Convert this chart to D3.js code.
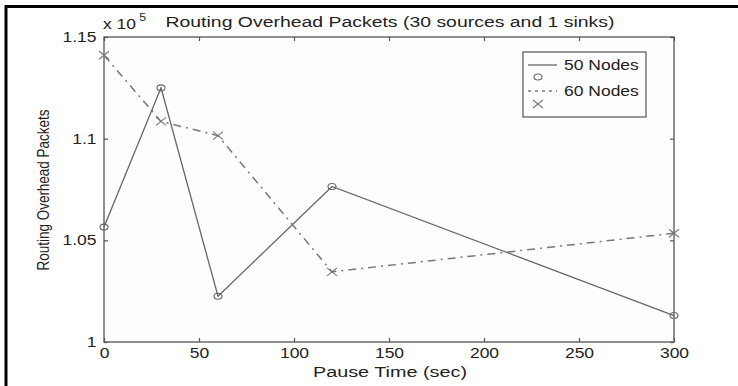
<!DOCTYPE html>
<html>
<head>
<meta charset="utf-8">
<script src="https://cdn.jsdelivr.net/npm/d3@7"></script>
<style>
  body { margin: 0; background: #fff; }
  svg { display: block; font-family: "Liberation Sans", Arial, sans-serif; }
</style>
</head>
<body>
<svg id="chart" width="738" height="386"></svg>
<script>
// pause time (sec) on the x axis
const pauseTimes = [0, 30, 60, 120, 300];
// routing overhead packets
const nodes50 = [105650, 112500, 102250, 107650, 101300];
const nodes60 = [114100, 110850, 110150, 103450, 105350];
const seriesNames = ['50 Nodes', '60 Nodes'];
const xTicks = [0, 50, 100, 150, 200, 250, 300];
const yTicks = [100000, 105000, 110000, 115000];

const svg = d3.select('#chart'),
  margin = {top: 37, right: 64, bottom: 44, left: 104},
  width = +svg.attr('width') - margin.left - margin.right,
  height = +svg.attr('height') - margin.top - margin.bottom;

const ink = '#555';
const stretch = 'scale(1.25,1)'; // the picture is wider than tall text would be

const x = d3.scaleLinear().domain([0, 300]).range([margin.left, margin.left + width]);
const y = d3.scaleLinear().domain([100000, 115000]).range([margin.top + height, margin.top]);

// outer frame (top and left only)
svg.append('path')
  .attr('d', 'M6,386V6.5H738')
  .attr('fill', 'none')
  .attr('stroke', '#000')
  .attr('stroke-width', 3);

// plot box
svg.append('rect')
  .attr('x', x(0)).attr('y', y(115000))
  .attr('width', x(300) - x(0)).attr('height', y(100000) - y(115000))
  .attr('fill', '#fdfdfd')
  .attr('stroke', ink)
  .attr('stroke-width', 1.3);

function styleAxis(g) {
  g.select('.domain').remove();
  g.selectAll('.tick line').attr('stroke', ink).attr('stroke-width', 1.2);
  g.selectAll('.tick text')
    .attr('fill', '#222')
    .attr('font-size', 14)
    .attr('transform', stretch);
}

svg.append('g')
  .attr('transform', 'translate(0,' + y(100000) + ')')
  .call(d3.axisBottom(x).tickValues(xTicks).tickSizeInner(-4).tickSizeOuter(0).tickPadding(6).tickFormat(d3.format('d')))
  .call(styleAxis);

svg.append('g')
  .attr('transform', 'translate(0,' + y(115000) + ')')
  .call(d3.axisTop(x).tickValues(xTicks).tickSizeInner(-4).tickSizeOuter(0).tickFormat(''))
  .call(styleAxis);

svg.append('g')
  .attr('transform', 'translate(' + x(0) + ',0)')
  .call(d3.axisLeft(y).tickValues(yTicks).tickSizeInner(-4).tickSizeOuter(0).tickPadding(6)
    .tickFormat(d => String(+(d / 1e5).toFixed(2))))
  .call(styleAxis);

svg.append('g')
  .attr('transform', 'translate(' + x(300) + ',0)')
  .call(d3.axisRight(y).tickValues(yTicks).tickSizeInner(-4).tickSizeOuter(0).tickFormat(''))
  .call(styleAxis);

// exponent label
const expo = svg.append('g').attr('transform', 'translate(103,29) ' + stretch).attr('fill', '#222');
expo.append('text').attr('font-size', 14).text('x 10');
expo.append('text').attr('x', 29).attr('y', -8).attr('font-size', 10).text('5');

// title
svg.append('text')
  .attr('x', 390).attr('y', 27)
  .attr('text-anchor', 'middle')
  .attr('font-size', 14)
  .attr('fill', '#222')
  .attr('textLength', 449)
  .attr('lengthAdjust', 'spacingAndGlyphs')
  .text('Routing Overhead Packets (30 sources and 1 sinks)');

// axis labels
svg.append('text')
  .attr('x', 390).attr('y', 377)
  .attr('text-anchor', 'middle')
  .attr('font-size', 14)
  .attr('fill', '#222')
  .attr('textLength', 154)
  .attr('lengthAdjust', 'spacingAndGlyphs')
  .text('Pause Time (sec)');

svg.append('text')
  .attr('transform', 'translate(49,190) ' + stretch + ' rotate(-90)')
  .attr('text-anchor', 'middle')
  .attr('font-size', 13.5)
  .attr('fill', '#222')
  .text('Routing Overhead Packets');

const line = d3.line()
  .x((d, i) => x(pauseTimes[i]))
  .y(d => y(d));

svg.append('path')
  .datum(nodes50)
  .attr('fill', 'none')
  .attr('stroke', '#666')
  .attr('stroke-width', 1.3)
  .attr('d', line);

svg.append('path')
  .datum(nodes60)
  .attr('fill', 'none')
  .attr('stroke', '#777')
  .attr('stroke-width', 1.5)
  .attr('stroke-dasharray', '8,5,2,5')
  .attr('d', line);

function circleMark(sel) {
  sel.append('ellipse').attr('rx', 4).attr('ry', 3)
    .attr('fill', 'none').attr('stroke', '#666').attr('stroke-width', 1.1);
}
function crossMark(sel) {
  sel.append('path').attr('d', 'M-5,-4L5,4M-5,4L5,-4')
    .attr('fill', 'none').attr('stroke', '#777').attr('stroke-width', 1.1);
}

svg.append('g').selectAll('g')
  .data(nodes50)
  .join('g')
  .attr('transform', (d, i) => 'translate(' + x(pauseTimes[i]) + ',' + y(d) + ')')
  .call(circleMark);

svg.append('g').selectAll('g')
  .data(nodes60)
  .join('g')
  .attr('transform', (d, i) => 'translate(' + x(pauseTimes[i]) + ',' + y(d) + ')')
  .call(crossMark);

// legend
const legend = svg.append('g').attr('transform', 'translate(523,52)');
legend.append('rect')
  .attr('width', 123).attr('height', 65)
  .attr('fill', '#fdfdfd')
  .attr('stroke', ink)
  .attr('stroke-width', 1.2);

legend.append('line')
  .attr('x1', 5).attr('x2', 34).attr('y1', 13).attr('y2', 13)
  .attr('stroke', '#666').attr('stroke-width', 1.3);
legend.append('g').attr('transform', 'translate(15,25)').call(circleMark);
legend.append('line')
  .attr('x1', 5).attr('x2', 34).attr('y1', 39).attr('y2', 39)
  .attr('stroke', '#777').attr('stroke-width', 1.3)
  .attr('stroke-dasharray', '3,4');
legend.append('g').attr('transform', 'translate(15,52)').call(crossMark);

legend.selectAll('text.name')
  .data(seriesNames)
  .join('text')
  .attr('class', 'name')
  .attr('transform', (d, i) => 'translate(41,' + (18 + i * 26) + ') ' + stretch)
  .attr('font-size', 14)
  .attr('fill', '#222')
  .text(d => d);
</script>
</body>
</html>
